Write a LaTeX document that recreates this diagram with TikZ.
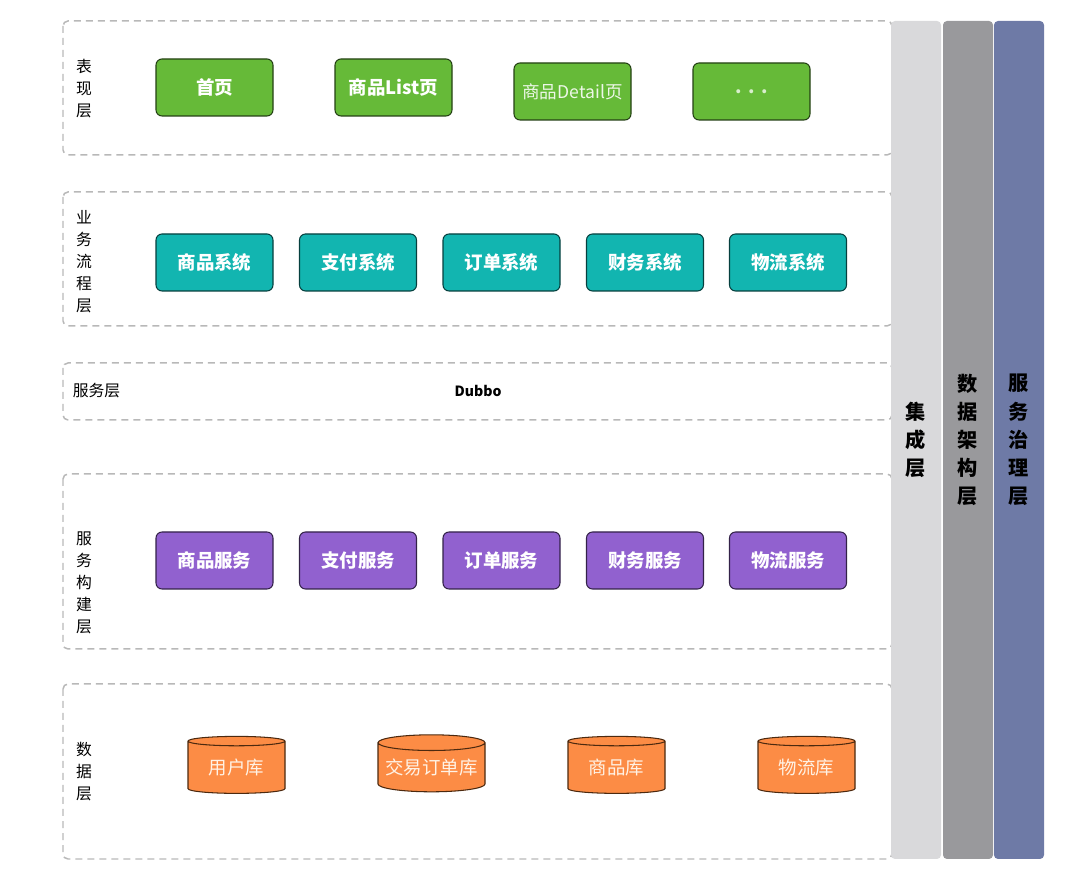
\documentclass[tikz,border=0pt]{standalone}
\usepackage{fontspec}
\setmainfont{Noto Sans CJK SC}
\usetikzlibrary{shapes.geometric}

\tikzset{
  layerbox/.style={draw=cdash,line width=0.85pt,dash pattern=on 0.14cm off 0.1cm,rounded corners=0.1cm},
  layertext/.style={align=center,inner sep=0pt,font=\fontsize{9}{12.5}\selectfont},
  appbox/.style={draw=#1!35!black,fill=#1,text=white,rounded corners=0.12cm,line width=0.6pt,
    minimum width=2.34cm,minimum height=1.14cm,inner sep=0pt,font=\fontsize{10.5}{12}\selectfont\bfseries},
  dbnode/.style={cylinder,shape border rotate=90,aspect=0.17,draw=cdbline,fill=cdb,line width=0.6pt,
    text=cdbtext,minimum width=1.94cm,minimum height=1.14cm,inner sep=0pt,font=\fontsize{10.5}{12}\selectfont},
  colbox/.style={fill=#1,rounded corners=0.08cm,minimum width=1.0cm,minimum height=16.76cm,inner sep=0pt,
    align=center,font=\fontsize{11.5}{16}\selectfont\bfseries},
}

\begin{document}
\begin{tikzpicture}
%
\useasboundingbox (0,0) rectangle (21.6cm,17.82cm);
%
\definecolor{cdash}{rgb}{0.72,0.72,0.72}
\definecolor{cpage}{rgb}{0.40,0.73,0.22}
\definecolor{csys}{rgb}{0.07,0.71,0.69}
\definecolor{csvc}{rgb}{0.57,0.38,0.81}
\definecolor{cdb}{rgb}{0.99,0.55,0.27}
\definecolor{cdbline}{rgb}{0.30,0.16,0.06}
\definecolor{cdbtext}{rgb}{1.0,0.95,0.90}
\definecolor{cint}{rgb}{0.85,0.85,0.86}
\definecolor{cdata}{rgb}{0.60,0.60,0.61}
\definecolor{cgov}{rgb}{0.43,0.48,0.65}
%
% layers
\draw[layerbox] (1.26cm,17.40cm) rectangle (17.84cm,14.72cm);
\draw[layerbox] (1.26cm,13.98cm) rectangle (17.84cm,11.30cm);
\draw[layerbox] (1.26cm,10.56cm) rectangle (17.84cm,9.42cm);
\draw[layerbox] (1.26cm,8.34cm) rectangle (17.84cm,4.84cm);
\draw[layerbox] (1.26cm,4.14cm) rectangle (17.84cm,0.64cm);
%
\node[layertext] (l0) at (1.68cm,16.04cm) {表\\现\\层};
\node[layertext] (l1) at (1.68cm,12.58cm) {业\\务\\流\\程\\层};
\node[layertext] (l2) at (1.93cm,10.00cm) {服务层};
\node[layertext] (l3) at (1.68cm,6.16cm) {服\\务\\构\\建\\层};
\node[layertext] (l4) at (1.68cm,2.38cm) {数\\据\\层};
%
% presentation
\node[appbox=cpage] (p0) at (4.29cm,16.07cm) {首页};
\node[appbox=cpage] (p1) at (7.87cm,16.07cm) {商品List页};
\node[appbox=cpage,font=\fontsize{10}{12}\selectfont,text=cpage!12!white] (p2) at (11.45cm,15.99cm) {商品Detail页};
\node[appbox=cpage,text=cpage!25!white] (p3) at (15.03cm,15.99cm) {.\hspace{0.35em}.\hspace{0.35em}.};
%
% business systems
\node[appbox=csys] (s0) at (4.29cm,12.57cm) {商品系统};
\node[appbox=csys] (s1) at (7.16cm,12.57cm) {支付系统};
\node[appbox=csys] (s2) at (10.03cm,12.57cm) {订单系统};
\node[appbox=csys] (s3) at (12.90cm,12.57cm) {财务系统};
\node[appbox=csys] (s4) at (15.76cm,12.57cm) {物流系统};
%
\node[font=\fontsize{8}{10}\selectfont\bfseries] (dubbo) at (9.56cm,10.00cm) {Dubbo};
%
% services
\node[appbox=csvc] (v0) at (4.29cm,6.61cm) {商品服务};
\node[appbox=csvc] (v1) at (7.16cm,6.61cm) {支付服务};
\node[appbox=csvc] (v2) at (10.03cm,6.61cm) {订单服务};
\node[appbox=csvc] (v3) at (12.90cm,6.61cm) {财务服务};
\node[appbox=csvc] (v4) at (15.76cm,6.61cm) {物流服务};
%
% databases
\node[dbnode] (d0) at (4.73cm,2.47cm) {用户库};
\node[dbnode,minimum width=2.14cm] (d1) at (8.63cm,2.47cm) {交易订单库};
\node[dbnode] (d2) at (12.33cm,2.47cm) {商品库};
\node[dbnode] (d3) at (16.13cm,2.47cm) {物流库};
%
% side columns
\node[colbox=cint] (c0) at (18.32cm,9.02cm) {集\\成\\层};
\node[colbox=cdata] (c1) at (19.36cm,9.02cm) {数\\据\\架\\构\\层};
\node[colbox=cgov] (c2) at (20.38cm,9.02cm) {服\\务\\治\\理\\层};
%
\end{tikzpicture}
\end{document}
